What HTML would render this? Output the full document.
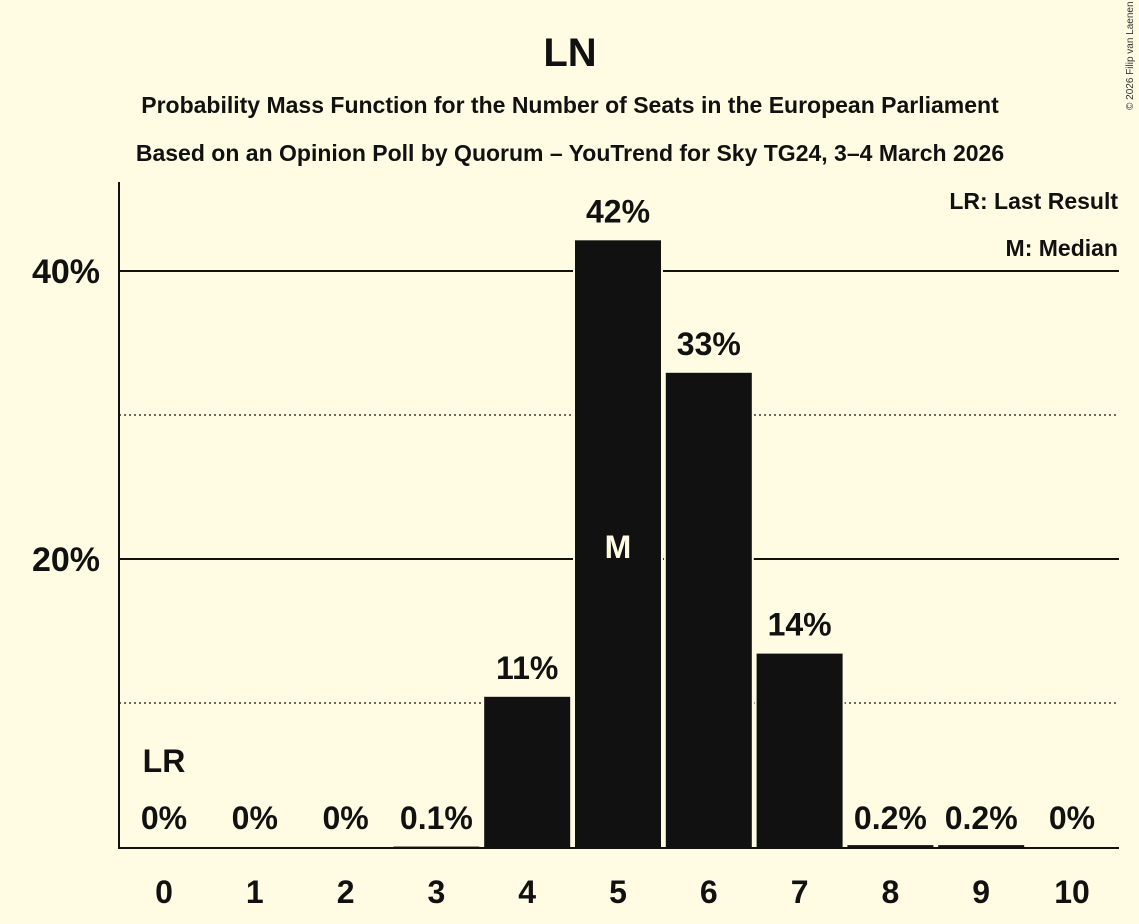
<!DOCTYPE html>
<html><head><meta charset="utf-8"><style>
body{margin:0;background:#FFFCE3;}
svg{display:block;font-family:"Liberation Sans",sans-serif;font-weight:bold;}
</style></head><body>
<svg id="c" width="1139" height="924" viewBox="0 0 1139 924">
<rect width="1139" height="924" fill="#FFFCE3"/>
<text x="570" y="66" text-anchor="middle" font-size="40" fill="#111">LN</text>
<text x="570" y="113" text-anchor="middle" font-size="23" fill="#111">Probability Mass Function for the Number of Seats in the European Parliament</text>
<text x="570" y="161" text-anchor="middle" font-size="23" fill="#111">Based on an Opinion Poll by Quorum – YouTrend for Sky TG24, 3–4 March 2026</text>
<text x="1133" y="110" font-size="10" font-weight="normal" fill="#333" transform="rotate(-90 1133 110)">© 2026 Filip van Laenen</text>
<g id="grid"></g>
<g id="bars"></g>
<line x1="119" y1="182" x2="119" y2="848" stroke="#111" stroke-width="2"/>
<line x1="118" y1="848" x2="1119" y2="848" stroke="#111" stroke-width="2"/>
<text x="1118" y="209" text-anchor="end" font-size="23" fill="#111">LR: Last Result</text>
<text x="1118" y="256" text-anchor="end" font-size="23" fill="#111">M: Median</text>
</svg>
<script>
const categories=[0,1,2,3,4,5,6,7,8,9,10];
const values=[0,0,0,0.1,10.5,42.2,33,13.5,0.2,0.2,0];
const valueLabels=["0%","0%","0%","0.1%","11%","42%","33%","14%","0.2%","0.2%","0%"];
const yTicks=[20,40];
const yDotted=[10,30];
const medianIndex=5, lastResultIndex=0;
const NS="http://www.w3.org/2000/svg";
const y=v=>847-v*14.4;
const x=i=>164+i*90.8;
const bw=88;
function mk(t,a,p){const e=document.createElementNS(NS,t);for(const k in a)e.setAttribute(k,a[k]);p.appendChild(e);return e;}
const g=document.getElementById('grid'),b=document.getElementById('bars');
yDotted.forEach(v=>{const l=mk('line',{x1:119,x2:1119,y1:y(v),y2:y(v),stroke:'#111','stroke-width':1.2,'stroke-dasharray':'2,3'},g);

});
yTicks.forEach(v=>{const l=mk('line',{x1:119,x2:1119,y1:y(v),y2:y(v),stroke:'#111','stroke-width':2},g);


const t=mk('text',{x:100,y:y(v)+12,'text-anchor':'end','font-size':34,fill:'#111'},g);t.textContent=v+'%';

});
categories.forEach((c,i)=>{
const top=y(values[i]);
const r=mk('rect',{x:x(i)-bw/2,y:top,width:bw,height:848-top,fill:'#111',stroke:'#FFFCE3','stroke-width':2},b);


const ly=values[i]<2?829:top-17;
const t=mk('text',{x:x(i),y:ly,'text-anchor':'middle','font-size':32,fill:'#111'},b);t.textContent=valueLabels[i];


const xt=mk('text',{x:x(i),y:903,'text-anchor':'middle','font-size':32,fill:'#111'},b);xt.textContent=c;


});
const m=mk('text',{x:x(medianIndex),y:558,'text-anchor':'middle','font-size':32,fill:'#FFFCE3'},b);m.textContent='M';


const lr=mk('text',{x:x(lastResultIndex),y:772,'text-anchor':'middle','font-size':32,fill:'#111'},b);lr.textContent='LR';


</script>
</body></html>
